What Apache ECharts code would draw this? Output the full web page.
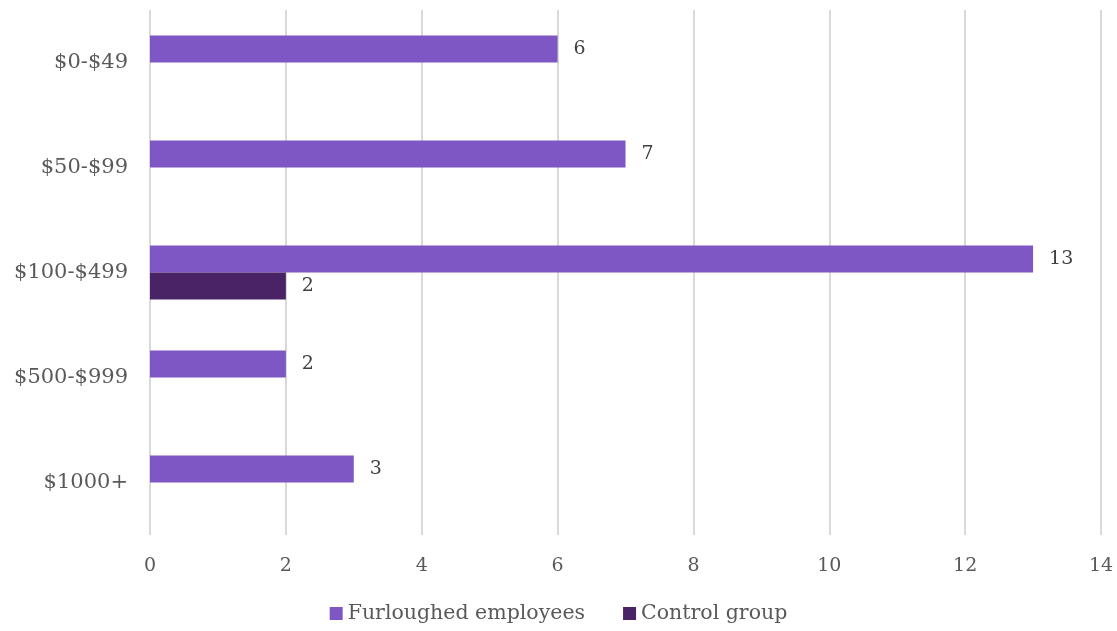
<!DOCTYPE html>
<html>
<head>
<meta charset="utf-8">
<script src="https://cdn.jsdelivr.net/npm/echarts@6/dist/echarts.min.js"></script>
<style>html,body{margin:0;padding:0;background:#fff;}#c{width:1117px;height:631px;}</style>
</head>
<body>
<div id="c"></div>
<script>
const categories = ['$0-$49', '$50-$99', '$100-$499', '$500-$999', '$1000+'];
const furloughed = [6, 7, 13, 2, 3];
const control = [null, null, 2, null, null];
const xTicks = [0, 2, 4, 6, 8, 10, 12, 14];

const FONT = '"DejaVu Serif", "Liberation Serif", serif';
const chart = echarts.init(document.getElementById('c'));
chart.setOption({
  animation: false,
  textStyle: { fontFamily: FONT },
  grid: { left: 150, right: 16, top: 10, bottom: 96 },
  legend: {
    bottom: 2,
    left: 'center',
    itemWidth: 13, itemHeight: 13, itemGap: 38, itemTextGap: 4,
    icon: 'rect',
    textStyle: { fontFamily: FONT, fontSize: 20.5, color: '#595959' },
    data: ['Furloughed employees', 'Control group']
  },
  xAxis: {
    type: 'value', min: xTicks[0], max: xTicks[xTicks.length - 1], interval: 2,
    axisLine: { show: false }, axisTick: { show: false },
    splitLine: { lineStyle: { color: '#d9d9d9', width: 2 } },
    axisLabel: { fontFamily: FONT, fontSize: 19, color: '#595959', margin: 22 }
  },
  yAxis: {
    type: 'category', data: categories, inverse: true,
    axisLine: { show: false }, axisTick: { show: false },
    axisLabel: { fontFamily: FONT, fontSize: 21, color: '#595959', margin: 22 }
  },
  series: [
    {
      name: 'Furloughed employees', type: 'bar', data: furloughed,
      barWidth: 27, barGap: '0%',
      itemStyle: { color: '#7e57c4' },
      label: { show: true, position: 'right', distance: 16, fontFamily: FONT, fontSize: 19, color: '#404040' }
    },
    {
      name: 'Control group', type: 'bar', data: control,
      barWidth: 27, barGap: '0%',
      itemStyle: { color: '#4a2366' },
      label: { show: true, position: 'right', distance: 16, fontFamily: FONT, fontSize: 19, color: '#404040' }
    }
  ]
});
</script>
</body>
</html>
